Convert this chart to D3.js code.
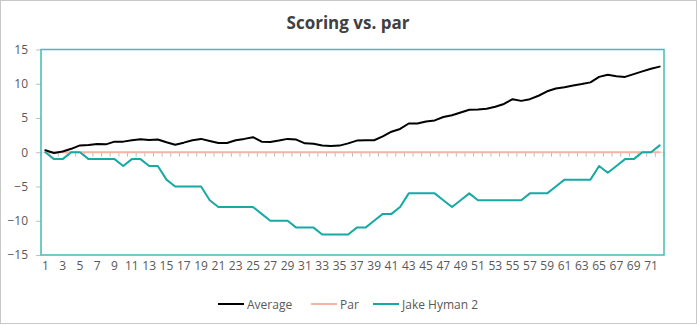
<!DOCTYPE html>
<html>
<head>
<meta charset="utf-8">
<script src="https://cdn.jsdelivr.net/npm/d3@7"></script>
<style>
  html, body { margin: 0; padding: 0; background: #fff; }
  svg { display: block; font-family: "Open Sans", "Noto Sans", sans-serif; }
</style>
</head>
<body>
<svg id="chart" width="697" height="325"></svg>
<script>
const holes = d3.range(1, 73);
const average = [0.3, -0.1, 0.1, 0.5, 1.0, 1.07, 1.2, 1.15, 1.55, 1.55,
  1.75, 1.9, 1.8, 1.85, 1.45, 1.1, 1.4, 1.75, 1.95, 1.65,
  1.35, 1.35, 1.75, 1.95, 2.2, 1.55, 1.5, 1.7, 1.95, 1.85,
  1.3, 1.25, 1.0, 0.92, 0.97, 1.3, 1.7, 1.75, 1.75, 2.33,
  3.0, 3.4, 4.2, 4.2, 4.5, 4.65, 5.15, 5.4, 5.8, 6.2,
  6.25, 6.35, 6.65, 7.05, 7.75, 7.5, 7.75, 8.25, 8.9, 9.3,
  9.5, 9.75, 9.95, 10.2, 11.0, 11.3, 11.1, 11.0, 11.4, 11.8,
  12.2, 12.5];
const par = holes.map(() => 0);
const jake = [0, -1, -1, 0, 0, -1, -1, -1, -1, -2,
  -1, -1, -2, -2, -4, -5, -5, -5, -5, -7,
  -8, -8, -8, -8, -8, -9, -10, -10, -10, -11,
  -11, -11, -12, -12, -12, -12, -11, -11, -10, -9,
  -9, -8, -6, -6, -6, -6, -7, -8, -7, -6,
  -7, -7, -7, -7, -7, -7, -6, -6, -6, -5,
  -4, -4, -4, -4, -2, -3, -2, -1, -1, 0,
  0, 1];
const yTicks = [-15, -10, -5, 0, 5, 10, 15];
const seriesNames = ["Average", "Par", "Jake Hyman 2"];
const seriesColors = ["#000000", "#f5b5a5", "#17aaa5"];
const seriesValues = [average, par, jake];

const svg = d3.select("#chart");
const L = 41, R = 664, T = 49.5, B = 255;

// outer border
svg.append("rect").attr("x", 0.5).attr("y", 0.5).attr("width", 696).attr("height", 323)
  .attr("fill", "#fff").attr("stroke", "#c8c8c8").attr("stroke-width", 1);

// title
svg.append("text").attr("x", 348).attr("y", 28.5).attr("text-anchor", "middle")
  .attr("font-size", 17).attr("font-weight", 700).attr("fill", "#404040")
  .text("Scoring vs. par");

const x = d3.scaleBand().domain(holes).range([L, R]).padding(0);
const y = d3.scaleLinear().domain([-15, 15]).range([B, T]);
const cx = d => x(d) + x.bandwidth() / 2;

// y axis
const yAxis = svg.append("g").attr("transform", `translate(${L},0)`)
  .call(d3.axisLeft(y).tickValues(yTicks).tickSize(5).tickPadding(8));
yAxis.select(".domain").remove();
yAxis.selectAll(".tick line").attr("stroke", "#bfbfbf");
yAxis.selectAll(".tick text").attr("fill", "#595959").attr("font-size", 12)
  .style("font-family", "'Open Sans', 'Noto Sans', sans-serif");

// x axis line at zero with ticks at category boundaries
const boundaries = holes.map(h => x(h)).concat([R]);
const y0 = y(0);
svg.append("line").attr("x1", L).attr("x2", R).attr("y1", y0).attr("y2", y0)
  .attr("stroke", "#d9d9d9").attr("stroke-width", 1);
svg.append("g").selectAll("line").data(boundaries).join("line")
  .attr("x1", d => d).attr("x2", d => d).attr("y1", y0).attr("y2", y0 + 4.5)
  .attr("stroke", "#bfbfbf").attr("stroke-width", 1);

// x labels at the bottom
const xAxis = svg.append("g").attr("transform", `translate(0,${B})`)
  .call(d3.axisBottom(x).tickValues(holes.filter(h => h % 2 === 1)).tickSize(0).tickPadding(6));
xAxis.select(".domain").remove();
xAxis.selectAll(".tick text").attr("fill", "#595959").attr("font-size", 12)
  .style("font-family", "'Open Sans', 'Noto Sans', sans-serif");

// lines
const line = d3.line().x((d, i) => cx(holes[i])).y(d => y(d));
const drawOrder = [1, 0, 2];
drawOrder.forEach(k => {
  svg.append("path").datum(seriesValues[k])
    .attr("fill", "none").attr("stroke", seriesColors[k])
    .attr("stroke-width", 2).attr("stroke-linejoin", "round").attr("stroke-linecap", "round")
    .attr("d", line);
});

// plot border
svg.append("rect").attr("x", L).attr("y", T).attr("width", R - L).attr("height", B - T)
  .attr("fill", "none").attr("stroke", "#3fbdb8").attr("stroke-width", 1.5);

// legend
const legendX = [218, 311, 373];
const lg = svg.append("g");
seriesNames.forEach((name, i) => {
  lg.append("line").attr("x1", legendX[i]).attr("x2", legendX[i] + 26)
    .attr("y1", 304).attr("y2", 304).attr("stroke", seriesColors[i]).attr("stroke-width", 2);
  lg.append("text").attr("x", legendX[i] + 29).attr("y", 308.5)
    .attr("font-size", 12).attr("fill", "#595959").text(name);
});
</script>
</body>
</html>
